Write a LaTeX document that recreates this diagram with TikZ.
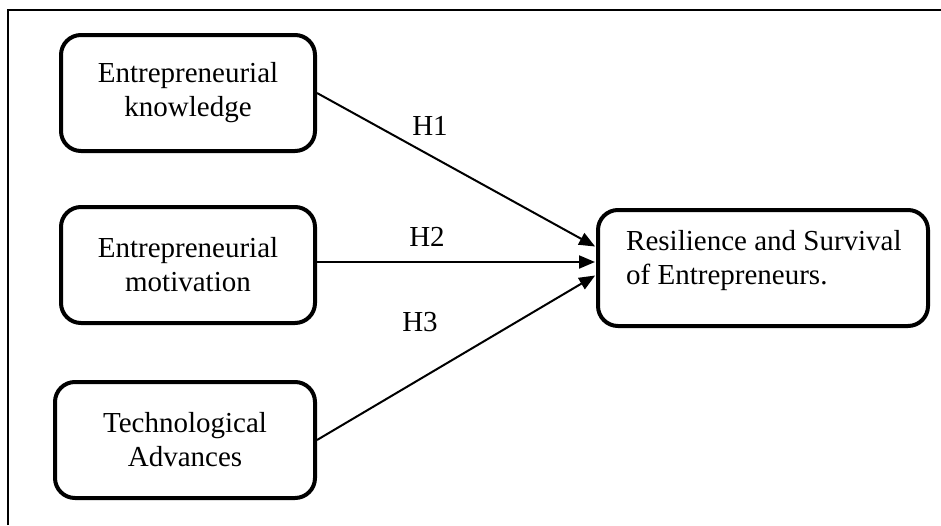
\documentclass[tikz,border=0pt]{standalone}
\usepackage{fontspec}
\setmainfont{Liberation Serif}
\usetikzlibrary{arrows.meta}
\begin{document}
\begin{tikzpicture}[x=1pt,y=-1pt,
  box/.style={draw, line width=4pt, rounded corners=20pt, minimum height=116pt, align=center,
    font=\fontsize{29}{34}\selectfont, inner sep=0pt},
  lbl/.style={font=\fontsize{29}{34}\selectfont, inner sep=0pt},
  link/.style={line width=2pt, -{Triangle[length=16pt,width=13pt]}, shorten >=1pt}]
\useasboundingbox (0,0) rectangle (941,525);
\draw[line width=1.5pt] (8,525) -- (8,10) -- (941,10);
\node[box, minimum width=254pt] (k) at (188,93) {Entrepreneurial\\knowledge};
\node[box, minimum width=254pt] (m) at (188,265) {Entrepreneurial\\motivation};
\node[box, minimum width=260pt] (t) at (185,440) {Technological\\Advances};
\node[box, minimum width=330pt] (r) at (763,268) {};
\node[lbl, anchor=north west, align=left] (rt) at ([xshift=30pt,yshift=-22pt]r.north west) {Resilience and Survival\\of Entrepreneurs.};
\coordinate (r1) at ([yshift=21pt]r.west);
\coordinate (r2) at ([yshift=6pt]r.west);
\coordinate (r3) at ([yshift=-7pt]r.west);
\draw[link] (k.east) -- (r1);
\draw[link] (m.east |- r2) -- (r2);
\draw[link] (t.east) -- (r3);
\node[lbl] (h1) at (430,126) {H1};
\node[lbl] (h2) at (427,237) {H2};
\node[lbl] (h3) at (420,322) {H3};
\end{tikzpicture}
\end{document}
